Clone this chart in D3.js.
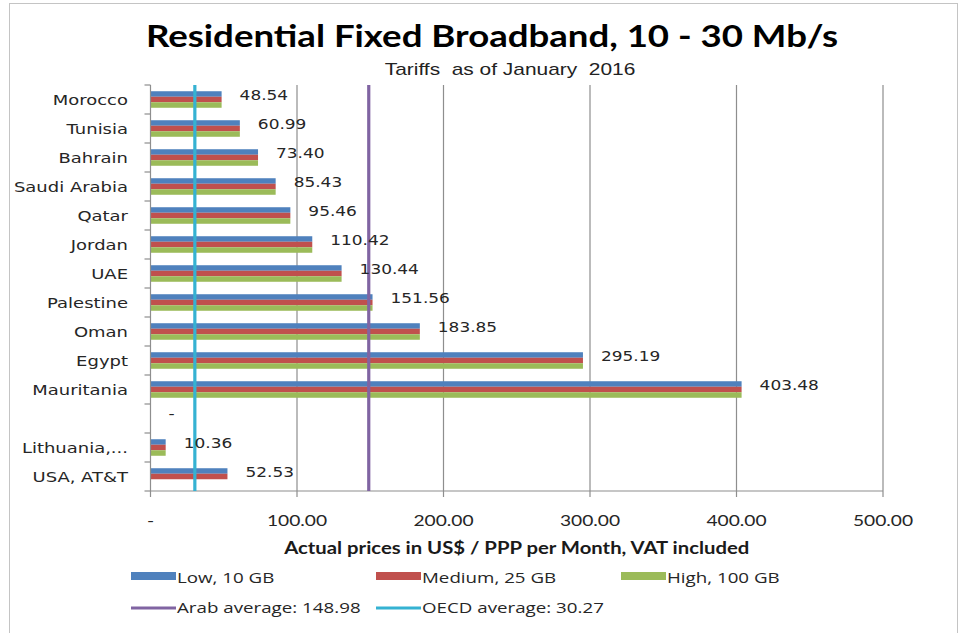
<!DOCTYPE html>
<html>
<head>
<meta charset="utf-8">
<script src="https://cdn.jsdelivr.net/npm/d3@7/dist/d3.min.js"></script>
<style>
  body { margin: 0; background: #fff; }
  svg { display: block; }
</style>
</head>
<body>
<svg id="chart" width="965" height="633"></svg>
<script>
// Residential fixed broadband tariffs, 10-30 Mb/s, January 2016 (USD PPP / month)
const categories = ["Morocco", "Tunisia", "Bahrain", "Saudi Arabia", "Qatar", "Jordan", "UAE",
  "Palestine", "Oman", "Egypt", "Mauritania", "", "Lithuania,...", "USA, AT&T"];
const lowValues    = [48.54, 60.99, 73.40, 85.43, 95.46, 110.42, 130.44, 151.56, 183.85, 295.19, 403.48, 0, 10.36, 52.53];
const mediumValues = [48.54, 60.99, 73.40, 85.43, 95.46, 110.42, 130.44, 151.56, 183.85, 295.19, 403.48, 0, 10.36, 52.53];
const highValues   = [48.54, 60.99, 73.40, 85.43, 95.46, 110.42, 130.44, 151.56, 183.85, 295.19, 403.48, 0, 10.36, null];
const seriesNames  = ["Low, 10 GB", "Medium, 25 GB", "High, 100 GB"];
const averageNames  = ["Arab average: 148.98", "OECD average: 30.27"];
const averageValues = [148.98, 30.27];
const xTickValues = [0, 100, 200, 300, 400, 500];

const seriesColors  = ["#4F81BD", "#C0504D", "#9BBB59"];
const averageColors = ["#8064A2", "#35B2D2"];
const seriesValues = [lowValues, mediumValues, highValues];

const svg = d3.select("#chart");
const TEXT_SX = 1.2; // horizontal stretch applied to text

// helper: place horizontally stretched text
function stretchedText(parent, x, y, str, opts) {
  const g = parent.append("g").attr("transform", `translate(${x},${y}) scale(${opts.sx || TEXT_SX},1)`);
  return g.append("text")
    .attr("text-anchor", opts.anchor || "start")
    .attr("dominant-baseline", opts.baseline || "auto")
    .style("font-family", opts.family)
    .style("font-size", opts.size + "px")
    .style("font-weight", opts.weight || "normal")
    .style("fill", opts.fill || "#222")
    .style("white-space", "pre")
    .text(str);
}

// outer frame
svg.append("rect").attr("x", 9.5).attr("y", 3.5).attr("width", 948).attr("height", 640)
  .attr("fill", "#fff").attr("stroke", "#c4c4c4");

const plot = { left: 150.5, right: 883, top: 85, bottom: 491 };

const x = d3.scaleLinear().domain([0, 500]).range([plot.left, plot.right]);
const idx = d3.range(categories.length);
const y = d3.scaleBand().domain(idx).range([plot.top, plot.bottom])
  .paddingInner(0.43).paddingOuter(0.215);
const ySeries = d3.scaleBand().domain([0, 1, 2]).range([0, y.bandwidth()]);
const yEdge = d3.scaleLinear().domain([0, categories.length]).range([plot.top, plot.bottom]);

// vertical gridlines
svg.append("g").selectAll("line").data(xTickValues.filter(v => v > 0)).join("line")
  .attr("x1", d => x(d)).attr("x2", d => x(d))
  .attr("y1", plot.top).attr("y2", plot.bottom)
  .attr("stroke", "#8e8e8e").attr("stroke-width", 1.2);

// bars
const barG = svg.append("g");
seriesValues.forEach((vals, s) => {
  barG.append("g").selectAll("rect")
    .data(idx.filter(i => vals[i] != null && vals[i] > 0))
    .join("rect")
    .attr("x", x(0))
    .attr("y", i => y(i) + ySeries(s))
    .attr("width", i => x(vals[i]) - x(0))
    .attr("height", ySeries.bandwidth())
    .attr("fill", seriesColors[s]);
});

// axis lines and ticks
const axisColor = "#8e8e8e";
svg.append("line").attr("x1", plot.left).attr("x2", plot.left)
  .attr("y1", plot.top).attr("y2", plot.bottom).attr("stroke", axisColor).attr("stroke-width", 1.2);
svg.append("line").attr("x1", plot.left).attr("x2", plot.right)
  .attr("y1", plot.bottom).attr("y2", plot.bottom).attr("stroke", axisColor).attr("stroke-width", 1.2);
svg.append("g").selectAll("line").data(d3.range(categories.length + 1)).join("line")
  .attr("x1", plot.left - 6).attr("x2", plot.left)
  .attr("y1", d => yEdge(d)).attr("y2", d => yEdge(d))
  .attr("stroke", axisColor).attr("stroke-width", 1.2);
svg.append("g").selectAll("line").data(xTickValues).join("line")
  .attr("x1", d => x(d)).attr("x2", d => x(d))
  .attr("y1", plot.bottom).attr("y2", plot.bottom + 6)
  .attr("stroke", axisColor).attr("stroke-width", 1.2);

// average reference lines
averageValues.forEach((v, i) => {
  svg.append("line").attr("x1", x(v)).attr("x2", x(v))
    .attr("y1", plot.top).attr("y2", plot.bottom)
    .attr("stroke", averageColors[i]).attr("stroke-width", 3.2);
});

// category labels
const catFont = { family: "'DejaVu Sans', Verdana, sans-serif", size: 14.5, anchor: "end", baseline: "central", fill: "#262626", sx: 1.24 };
idx.forEach(i => {
  if (categories[i]) stretchedText(svg, 128, y(i) + y.bandwidth() / 2 + 1, categories[i], catFont);
});

// data labels
const fmt = v => v === 0 ? "-" : v.toFixed(2);
const lblFont = { family: "'DejaVu Sans', Verdana, sans-serif", size: 14.5, baseline: "central", fill: "#262626", sx: 1.17 };
idx.forEach(i => {
  const v = lowValues[i];
  stretchedText(svg, x(v) + 18, y(i) + ySeries(0) + ySeries.bandwidth() / 2 + 1, fmt(v), lblFont);
});

// x tick labels
const tickFont = { family: "Lato, 'Open Sans', sans-serif", size: 15.5, anchor: "middle", baseline: "central", fill: "#262626", sx: 1.24 };
xTickValues.forEach(v => stretchedText(svg, x(v), 520, fmt(v), tickFont));

// axis title
stretchedText(svg, (plot.left + plot.right) / 2, 548, "Actual prices in US$ / PPP per Month, VAT included",
  { family: "Lato, 'Open Sans', sans-serif", size: 16.5, weight: "bold", anchor: "middle", baseline: "central", fill: "#1a1a1a", sx: 1.23 });

// title and subtitle
stretchedText(svg, 492, 47, "Residential Fixed Broadband, 10 - 30 Mb/s",
  { family: "Lato, 'Open Sans', sans-serif", size: 30.5, weight: "bold", anchor: "middle", fill: "#000", sx: 1.2 });
stretchedText(svg, 510, 75, "Tariffs  as of January  2016",
  { family: "'Liberation Sans Narrow', 'Arial Narrow', 'Liberation Sans', sans-serif", size: 17, anchor: "middle", fill: "#222", sx: 1.23 });

// legend
const legFont = { family: "'Open Sans', Lato, sans-serif", size: 15, baseline: "central", fill: "#262626", sx: 1.25 };
const legX = d3.scaleLinear().domain([0, 1]).range([131, 376]);
seriesNames.forEach((name, i) => {
  const lx = legX(i);
  svg.append("rect").attr("x", lx).attr("y", 572).attr("width", 45).attr("height", 8).attr("fill", seriesColors[i]);
  stretchedText(svg, lx + 46, 577, name, legFont);
});
averageNames.forEach((name, i) => {
  const lx = legX(i);
  svg.append("line").attr("x1", lx).attr("x2", lx + 45).attr("y1", 608).attr("y2", 608)
    .attr("stroke", averageColors[i]).attr("stroke-width", 3);
  stretchedText(svg, lx + 46, 607, name, legFont);
});
</script>
</body>
</html>
